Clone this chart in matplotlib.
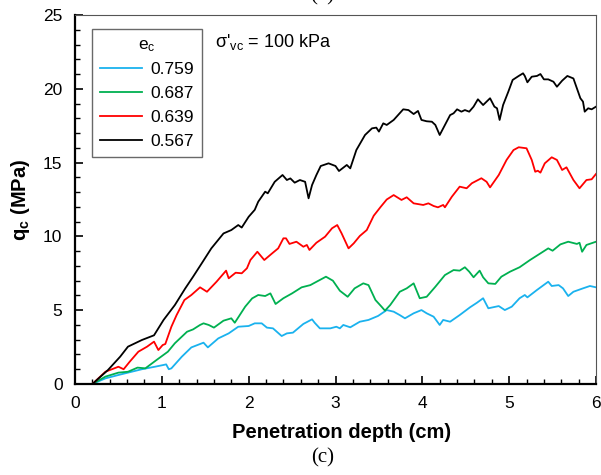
import matplotlib
matplotlib.use("Agg")
import matplotlib.pyplot as plt
from matplotlib.ticker import MultipleLocator

plt.rcParams["font.family"] = ["Liberation Sans", "DejaVu Sans"]
plt.rcParams["mathtext.fontset"] = "custom"
plt.rcParams["mathtext.rm"] = "Liberation Sans"
plt.rcParams["mathtext.it"] = "Liberation Sans:italic"
plt.rcParams["mathtext.bf"] = "Liberation Sans:bold"

void_ratios = ["0.759", "0.687", "0.639", "0.567"]
colors = ["#1AB2EE", "#00B050", "#FF0000", "#000000"]

depth_0759 = [0, 0.2, 0.35, 0.50, 0.61, 0.77, 0.92, 1.02, 1.05, 1.08, 1.11, 1.23, 1.34, 1.48, 1.53,
              1.65, 1.77, 1.88, 2.00, 2.07, 2.15, 2.21, 2.28, 2.38, 2.44, 2.51, 2.63, 2.73, 2.76,
              2.82, 2.94, 3.01, 3.05, 3.09, 3.17, 3.28, 3.38, 3.49, 3.59, 3.67, 3.74, 3.80, 3.90,
              3.99, 4.05, 4.13, 4.20, 4.24, 4.32, 4.43, 4.55, 4.63, 4.70, 4.76, 4.88, 4.95, 5.03,
              5.12, 5.18, 5.21, 5.32, 5.45, 5.49, 5.57, 5.62, 5.68, 5.74, 5.85, 5.93, 6.00]
qc_0759 = [0, 0, 0.38, 0.61, 0.77, 1.0, 1.17, 1.29, 1.33, 1.0, 1.06, 1.85, 2.48, 2.8, 2.48,
           3.09, 3.43, 3.88, 3.93, 4.11, 4.11, 3.82, 3.77, 3.25, 3.43, 3.48, 4.07, 4.38, 4.15,
           3.77, 3.77, 3.88, 3.77, 4.0, 3.84, 4.22, 4.34, 4.61, 5.01, 4.9, 4.67, 4.45, 4.79,
           5.01, 4.79, 4.56, 4.0, 4.34, 4.22, 4.67, 5.2, 5.51, 5.81, 5.13, 5.28, 5.01, 5.24,
           5.81, 6.03, 5.87, 6.37, 6.93, 6.64, 6.7, 6.48, 5.96, 6.25, 6.48, 6.64, 6.55]

depth_0687 = [0, 0.2, 0.35, 0.50, 0.61, 0.72, 0.81, 0.94, 1.07, 1.15, 1.29, 1.36, 1.44, 1.48, 1.54,
              1.60, 1.71, 1.80, 1.84, 1.96, 2.04, 2.11, 2.19, 2.25, 2.31, 2.40, 2.50, 2.61, 2.71,
              2.76, 2.89, 2.97, 3.05, 3.14, 3.22, 3.32, 3.38, 3.46, 3.53, 3.57, 3.63, 3.74, 3.82,
              3.90, 3.97, 4.05, 4.15, 4.26, 4.36, 4.43, 4.49, 4.54, 4.59, 4.66, 4.70, 4.76, 4.84,
              4.91, 5.01, 5.12, 5.24, 5.36, 5.45, 5.50, 5.59, 5.68, 5.78, 5.81, 5.84, 5.89, 6.00]
qc_0687 = [0, 0, 0.5, 0.77, 0.83, 1.11, 1.06, 1.63, 2.19, 2.76, 3.54, 3.7, 4.0, 4.11, 4.0,
           3.82, 4.29, 4.45, 4.15, 5.24, 5.8, 6.03, 5.96, 6.14, 5.42, 5.81, 6.14, 6.55, 6.7,
           6.86, 7.27, 7.0, 6.32, 5.91, 6.48, 6.82, 6.7, 5.69, 5.24, 4.97, 5.35, 6.25, 6.48,
           6.82, 5.81, 5.91, 6.59, 7.38, 7.72, 7.68, 7.91, 7.61, 7.23, 7.68, 7.23, 6.82, 6.78,
           7.27, 7.61, 7.91, 8.4, 8.85, 9.19, 9.03, 9.46, 9.64, 9.49, 9.57, 8.96, 9.42, 9.64]

depth_0639 = [0, 0.2, 0.35, 0.50, 0.56, 0.63, 0.73, 0.83, 0.91, 0.96, 1.01, 1.04, 1.11, 1.17, 1.26,
              1.34, 1.44, 1.52, 1.63, 1.74, 1.77, 1.85, 1.92, 1.98, 2.02, 2.10, 2.18, 2.27, 2.34,
              2.40, 2.43, 2.47, 2.55, 2.63, 2.67, 2.70, 2.78, 2.88, 2.96, 3.02, 3.07, 3.15, 3.21,
              3.28, 3.36, 3.44, 3.52, 3.59, 3.67, 3.76, 3.82, 3.90, 4.01, 4.07, 4.13, 4.18, 4.24,
              4.26, 4.34, 4.43, 4.51, 4.57, 4.68, 4.74, 4.78, 4.88, 4.97, 5.05, 5.11, 5.20, 5.26,
              5.30, 5.33, 5.36, 5.41, 5.49, 5.55, 5.61, 5.66, 5.74, 5.81, 5.89, 5.95, 6.00]
qc_0639 = [0, 0, 0.83, 1.17, 1.0, 1.51, 2.19, 2.53, 2.87, 2.3, 2.64, 2.71, 3.88, 4.67, 5.69,
           6.03, 6.55, 6.25, 6.93, 7.68, 7.16, 7.54, 7.5, 7.84, 8.4, 8.96, 8.4, 8.85, 9.19,
           9.87, 9.87, 9.49, 9.64, 9.3, 9.42, 9.08, 9.57, 9.98, 10.55, 10.77, 10.21, 9.19, 9.53,
           10.03, 10.43, 11.4, 12.0, 12.5, 12.8, 12.47, 12.65, 12.24, 12.13, 12.24, 12.06, 11.97, 12.13,
           11.97, 12.69, 13.37, 13.26, 13.6, 13.94, 13.7, 13.32, 14.16, 15.18, 15.85, 16.04, 15.97, 15.18,
           14.38, 14.45, 14.32, 14.95, 15.36, 15.18, 14.5, 14.68, 13.82, 13.26, 13.82, 13.87, 14.23]

depth_0567 = [0, 0.2, 0.38, 0.52, 0.61, 0.77, 0.91, 1.02, 1.15, 1.27, 1.36, 1.46, 1.57, 1.71, 1.80,
              1.88, 1.92, 2.00, 2.07, 2.11, 2.19, 2.22, 2.30, 2.39, 2.44, 2.48, 2.53, 2.59, 2.65,
              2.69, 2.73, 2.78, 2.83, 2.92, 3.00, 3.04, 3.13, 3.17, 3.24, 3.34, 3.42, 3.47, 3.50,
              3.55, 3.59, 3.67, 3.78, 3.84, 3.90, 3.95, 3.99, 4.05, 4.11, 4.15, 4.20, 4.24, 4.32,
              4.36, 4.40, 4.45, 4.49, 4.54, 4.59, 4.64, 4.70, 4.74, 4.78, 4.83, 4.86, 4.89, 4.93,
              4.99, 5.04, 5.11, 5.16, 5.18, 5.21, 5.26, 5.32, 5.36, 5.40, 5.45, 5.51, 5.55, 5.61,
              5.67, 5.74, 5.78, 5.82, 5.85, 5.87, 5.91, 5.95, 6.00]
qc_0567 = [0, 0, 0.95, 1.85, 2.53, 2.98, 3.3, 4.34, 5.35, 6.48, 7.27, 8.18, 9.19, 10.2, 10.43,
           10.77, 10.6, 11.33, 11.8, 12.35, 13.03, 12.92, 13.7, 14.16, 13.82, 13.93, 13.64, 13.82, 13.7,
           12.58, 13.48, 14.16, 14.77, 14.95, 14.77, 14.43, 14.84, 14.61, 15.85, 16.87, 17.32, 17.37, 17.1,
           17.66, 17.55, 17.89, 18.61, 18.56, 18.29, 18.5, 17.89, 17.8, 17.77, 17.55, 16.87, 17.32, 18.22,
           18.34, 18.61, 18.45, 18.56, 18.45, 18.79, 19.29, 18.9, 19.13, 19.36, 18.79, 18.68, 17.89, 18.9,
           19.8, 20.6, 20.87, 21.05, 20.87, 20.44, 20.82, 20.87, 21.0, 20.64, 20.64, 20.48, 20.14, 20.55,
           20.87, 20.7, 20.03, 19.36, 19.13, 18.45, 18.68, 18.61, 18.79]

depths = [depth_0759, depth_0687, depth_0639, depth_0567]
qcs = [qc_0759, qc_0687, qc_0639, qc_0567]

fig = plt.figure(figsize=(6.01, 4.75), dpi=100)
ax = fig.add_axes([75 / 601, 1 - 384 / 475, 521 / 601, 369 / 475])

for d, q, c, lab in zip(depths, qcs, colors, void_ratios):
    ax.plot(d, q, color=c, lw=1.3, label=lab)

ax.set_xlim(0, 6)
ax.set_ylim(0, 25)
ax.xaxis.set_major_locator(MultipleLocator(1))
ax.xaxis.set_minor_locator(MultipleLocator(0.2))
ax.yaxis.set_major_locator(MultipleLocator(5))
ax.yaxis.set_minor_locator(MultipleLocator(1))
ax.tick_params(which="both", direction="in", labelsize=12.5, top=False, right=False, pad=9)
ax.tick_params(which="major", length=6, width=1.2)
ax.tick_params(which="minor", length=3.5, width=1)
ax.spines["left"].set_linewidth(1.6)
ax.spines["bottom"].set_linewidth(1.6)
ax.spines["top"].set_color("#555555")
ax.spines["right"].set_color("#555555")

ax.set_xlabel("Penetration depth (cm)", fontsize=14.5, fontweight="bold", va="center")
ax.xaxis.set_label_coords(0.511, (384 - 432) / 369)
ax.set_ylabel(r"$\mathbf{q_c}$ (MPa)", fontsize=14.5, fontweight="bold", va="center")
ax.yaxis.set_label_coords((21 - 75) / 521, 0.5)

leg = ax.legend(title=r"e$_{\rm c}$", loc="upper left", bbox_to_anchor=(0.033, 0.962),
                borderaxespad=0, fontsize=12.5, title_fontsize=12.5, frameon=True, fancybox=False,
                handlelength=2.4, labelspacing=0.5, handletextpad=0.5, borderpad=0.45)
leg.get_frame().set_edgecolor("#444444")
leg.get_frame().set_linewidth(1.0)

ax.text(0.269, 0.927, r"σ'$_{\rm vc}$ = 100 kPa", transform=ax.transAxes, fontsize=13,
        va="center", ha="left")

fig.text(323 / 601, 1 - 458 / 475, "(c)", fontsize=15, family="Liberation Serif",
         ha="center", va="center")
fig.text(322 / 601, 1.0, "(b)", fontsize=15, family="Liberation Serif",
         ha="center", va="baseline")

fig.savefig("out.png", dpi=100)
